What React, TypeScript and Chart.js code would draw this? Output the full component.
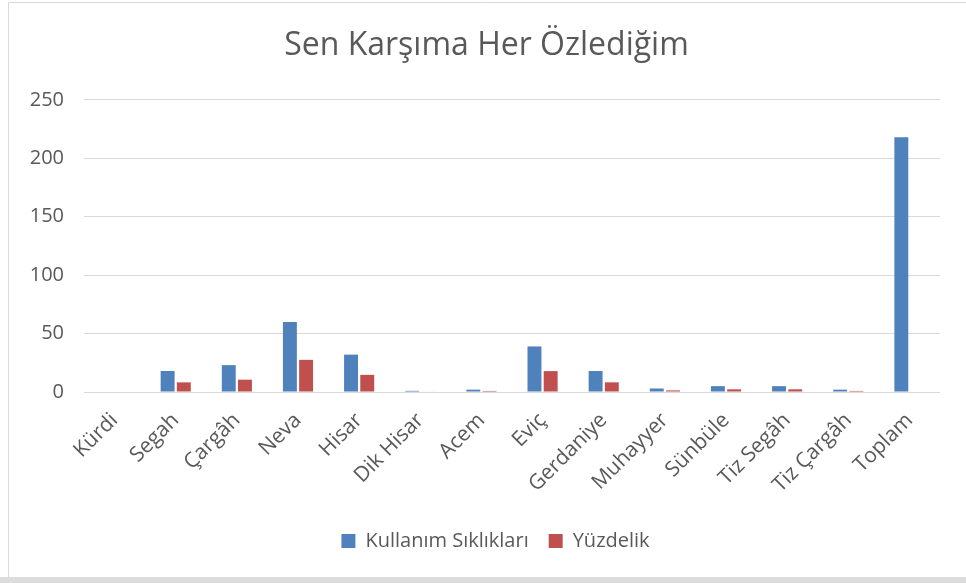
import React, { useEffect, useRef } from "react";
import { Chart, registerables } from "chart.js";

Chart.register(...registerables);

const categories = [
  "Kürdi", "Segah", "Çargâh", "Neva", "Hisar", "Dik Hisar", "Acem",
  "Eviç", "Gerdaniye", "Muhayyer", "Sünbüle", "Tiz Segâh", "Tiz Çargâh", "Toplam",
];
const kullanimSikliklari = [0, 18, 23, 60, 32, 1, 2, 39, 18, 3, 5, 5, 2, 218];
const yuzdelik = [0, 8.26, 10.55, 27.52, 14.68, 0.46, 0.92, 17.89, 8.26, 1.38, 2.29, 2.29, 0.92, null];
const yTicks = [0, 50, 100, 150, 200, 250];

const FONT = "'Open Sans', 'Noto Sans', sans-serif";
const TEXT = "#595959";

const framePlugin = {
  id: "frame",
  afterLayout(chart: any) {
    const tb = chart.titleBlock;
    if (tb) {
      tb.left -= 9;
      tb.right -= 9;
    }
  },
  beforeDraw(chart: any) {
    const ctx = chart.ctx;
    ctx.save();
    ctx.fillStyle = "#ffffff";
    ctx.fillRect(0, 0, chart.width, chart.height);
    ctx.fillStyle = "#dcdcdc";
    ctx.fillRect(0, chart.height - 6, chart.width, 6);
    ctx.strokeStyle = "#d9d9d9";
    ctx.lineWidth = 1;
    ctx.beginPath();
    ctx.moveTo(8.5, chart.height - 6);
    ctx.lineTo(8.5, 2.5);
    ctx.lineTo(chart.width, 2.5);
    ctx.stroke();
    ctx.restore();
  },
};

export default function App() {
  const ref = useRef<HTMLCanvasElement | null>(null);
  useEffect(() => {
    if (!ref.current) return;
    const chart = new Chart(ref.current, {
      type: "bar",
      data: {
        labels: categories,
        datasets: [
          {
            label: "Kullanım Sıklıkları",
            data: kullanimSikliklari,
            backgroundColor: "#4F81BD",
            categoryPercentage: 0.53,
            barPercentage: 0.86,
          },
          {
            label: "Yüzdelik",
            data: yuzdelik as any,
            backgroundColor: "#C0504D",
            categoryPercentage: 0.53,
            barPercentage: 0.86,
          },
        ],
      },
      options: {
        animation: false,
        responsive: false,
        maintainAspectRatio: false,
        layout: { padding: { left: 25, right: 0, top: 27, bottom: 22 } },
        plugins: {
          title: {
            display: true,
            text: "Sen Karşıma Her Özlediğim",
            color: TEXT,
            font: { family: FONT, size: 32, weight: "normal" },
            padding: { top: 0, bottom: 34.5 },
          },
          legend: {
            position: "bottom",
            labels: {
              color: TEXT,
              font: { family: FONT, size: 20 },
              boxWidth: 14,
              boxHeight: 14,
              padding: 20,
            },
          },
          tooltip: { enabled: false },
        },
        scales: {
          x: {
            grid: { display: false, drawTicks: false },
            border: { display: false },
            ticks: {
              color: TEXT,
              font: { family: FONT, size: 21 },
              maxRotation: 45,
              minRotation: 45,
              autoSkip: false,
              padding: 16,
            },
            afterFit(scale: any) {
              scale.height = 119;
            },
          },
          y: {
            min: 0,
            max: 250,
            afterBuildTicks(scale: any) {
              scale.ticks = yTicks.map((v) => ({ value: v }));
            },
            grid: { color: "#d9d9d9", drawTicks: false, lineWidth: 1 },
            border: { display: false },
            ticks: {
              color: TEXT,
              font: { family: FONT, size: 20 },
              padding: 20,
            },
            afterFit(scale: any) {
              scale.width = 59;
            },
          },
          yRight: {
            position: "right",
            min: 0,
            max: 1,
            grid: { display: false, drawTicks: false },
            border: { display: false },
            ticks: { display: false },
            afterFit(scale: any) {
              scale.width = 26;
            },
          },
        },
      },
      plugins: [framePlugin],
    });
    return () => chart.destroy();
  }, []);
  return (
    <div style={{ position: "fixed", left: 0, top: 0, width: 966, height: 583 }}>
      <canvas ref={ref} width={966} height={583} style={{ width: 966, height: 583, display: "block" }} />
    </div>
  );
}
